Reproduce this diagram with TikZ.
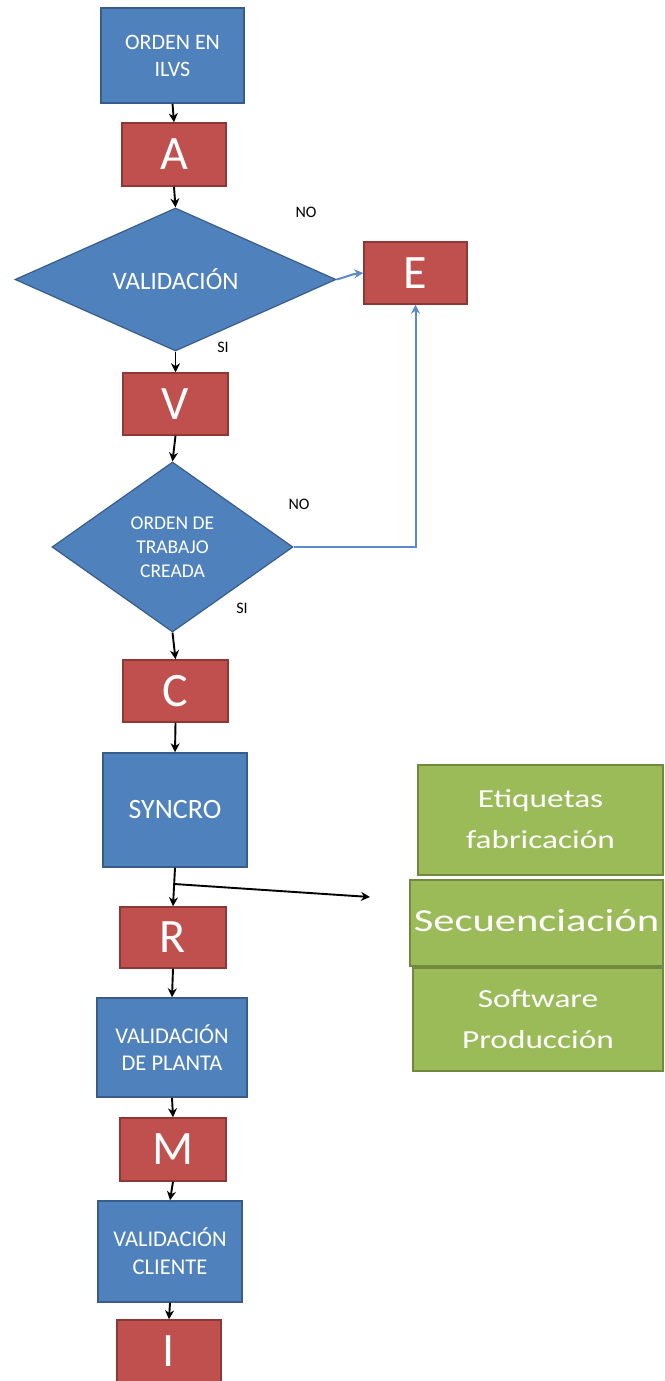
\documentclass[tikz,border=0pt]{standalone}
\usepackage{fontspec}
\usepackage{graphicx}
\setmainfont{Carlito}
\usetikzlibrary{shapes.geometric,arrows.meta}

\definecolor{bluefill}{HTML}{4F81BD}
\definecolor{blueline}{HTML}{385D8A}
\definecolor{redfill}{HTML}{C0504D}
\definecolor{redline}{HTML}{8C3836}
\definecolor{greenfill}{HTML}{9BBB59}
\definecolor{greenline}{HTML}{71893F}
\definecolor{linkblue}{HTML}{5A8ACB}

% wide lettering for the green boxes
\newcommand\widetxt[2]{\scalebox{#1}[1]{\begin{tabular}{@{}c@{}}#2\end{tabular}}}

\tikzset{
  bluebox/.style={rectangle, fill=bluefill, draw=blueline, line width=1.5pt,
    text=white, align=center, inner sep=0pt},
  redbox/.style={rectangle, fill=redfill, draw=redline, line width=1.5pt,
    text=white, inner sep=0pt, font=\fontsize{48}{50}\selectfont},
  greenbox/.style={rectangle, fill=greenfill, draw=greenline, line width=1.5pt,
    text=white, inner sep=0pt},
  decision/.style={diamond, fill=bluefill, draw=blueline, line width=1.2pt,
    text=white, align=center, inner sep=0pt},
  flow/.style={-{Stealth[length=9pt,width=9pt]}, line width=1.9pt, black},
  nolink/.style={-{Stealth[length=9pt,width=9pt]}, line width=2pt, linkblue},
  lbl/.style={inner sep=0pt, font=\fontsize{16}{18}\selectfont}
}

\begin{document}
\begin{tikzpicture}[x=1pt, y=-1pt]
\useasboundingbox (0,0) rectangle (664,1381);

% main column
\node[bluebox, minimum width=143pt, minimum height=95pt,
      font=\fontsize{22}{27}\selectfont] (orden) at (172.5,55.5) {ORDEN EN\\ILVS};
\node[redbox, minimum width=104pt, minimum height=63pt] (a) at (174,154.5) {A};
\node[decision, minimum width=321pt, minimum height=143pt, aspect=2.245,
      font=\fontsize{25}{30}\selectfont] (val) at (175.5,279.5) {VALIDACIÓN};
\node[redbox, minimum width=103pt, minimum height=62pt] (e) at (415.5,273) {E};
\node[redbox, minimum width=105pt, minimum height=62pt] (v) at (175.5,404) {V};
\node[decision, minimum width=241pt, minimum height=170pt, aspect=1.42,
      font=\fontsize{19.5}{24}\selectfont] (ot) at (172.5,547) {ORDEN DE\\TRABAJO\\CREADA};
\node[redbox, minimum width=105pt, minimum height=62pt] (c) at (175.5,691) {C};
\node[bluebox, minimum width=144pt, minimum height=114pt,
      font=\fontsize{28}{32}\selectfont] (sync) at (175,810) {SYNCRO};
\node[redbox, minimum width=106pt, minimum height=61pt] (r) at (173,937.5) {R};
\node[bluebox, minimum width=150pt, minimum height=99pt,
      font=\fontsize{22.5}{27}\selectfont] (vp) at (172,1047.5) {VALIDACIÓN\\DE PLANTA};
\node[redbox, minimum width=106pt, minimum height=63pt] (m) at (173,1149.5) {M};
\node[bluebox, minimum width=144pt, minimum height=101pt,
      font=\fontsize{22.5}{28}\selectfont] (vc) at (170,1251.5) {VALIDACIÓN\\CLIENTE};
\node[redbox, minimum width=104pt, minimum height=63pt] (i) at (169,1351.5) {I};

% outputs of SYNCRO
\node[greenbox, minimum width=245pt, minimum height=110pt,
      font=\fontsize{26}{41}\selectfont] (etq) at (540.5,820)
      {\widetxt{1.28}{Etiquetas\\fabricación}};
\node[greenbox, minimum width=253pt, minimum height=86pt,
      font=\fontsize{32}{40}\selectfont] (sec) at (536.5,923)
      {\widetxt{1.33}{Secuenciación}};
\node[greenbox, minimum width=250pt, minimum height=103pt,
      font=\fontsize{26}{41}\selectfont] (soft) at (538,1019.5)
      {\widetxt{1.28}{Software\\Producción}};

% branch labels
\node[lbl] (no1) at (306,212) {NO};
\node[lbl] (si1) at (223,347) {SI};
\node[lbl] (no2) at (299,504) {NO};
\node[lbl] (si2) at (242,608) {SI};

% connectors
\draw[flow] (orden.south) -- (a.north);
\draw[flow] (a.south) -- (val.north);
\draw[flow] (val.south) -- (v.north);
\draw[flow] (v.south) -- (ot.north);
\draw[flow] (ot.south) -- (c.north);
\draw[flow] (c.south) -- (sync.north);
\draw[flow] (sync.south) -- (r.north);
\coordinate (split) at (174.3,884);
\coordinate (out) at (370,897);
\draw[flow] (split) -- (out);
\draw[flow] (r.south) -- (vp.north);
\draw[flow] (vp.south) -- (m.north);
\draw[flow] (m.south) -- (vc.north);
\draw[flow] (vc.south) -- (i.north);

\draw[nolink] (val.east) to[out=15, in=185] (e.west);
\draw[nolink] (ot.east) -| (e.south);
\end{tikzpicture}
\end{document}
